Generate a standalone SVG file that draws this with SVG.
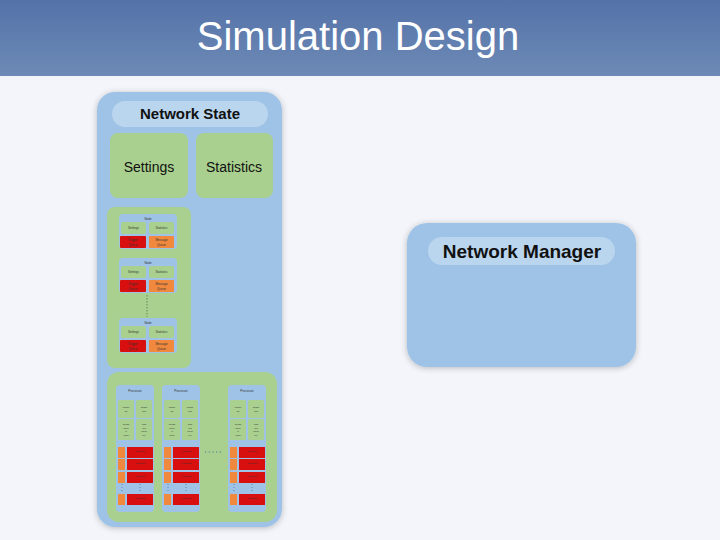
<svg xmlns="http://www.w3.org/2000/svg" width="720" height="540" viewBox="0 0 720 540">
<defs>
<linearGradient id="hdr" x1="0" y1="0" x2="0" y2="1">
<stop offset="0" stop-color="#5472a8"/>
<stop offset="1" stop-color="#6d8ab6"/>
</linearGradient>
<filter id="sh" x="-10%" y="-10%" width="120%" height="120%">
<feGaussianBlur in="SourceAlpha" stdDeviation="3"/>
<feOffset dx="0" dy="1"/>
<feComponentTransfer><feFuncA type="linear" slope="0.25"/></feComponentTransfer>
<feMerge><feMergeNode/><feMergeNode in="SourceGraphic"/></feMerge>
</filter>
</defs>
<style>
.blue{fill:#9fc3e6}
.pill{fill:#bad5ee}
.green{fill:#a9d08e}
.red{fill:#d80f0f}
.orange{fill:#f0883e}
.t{font-family:"Liberation Sans",Arial,sans-serif;text-anchor:middle;fill:#111}
.b{font-weight:bold}
.tiny{font-size:3px;fill:#333}
.mini{font-size:2.5px;fill:#333}
.dots{stroke:#4a7aa0;stroke-width:0.8;stroke-dasharray:1,2;fill:none}
</style>
<rect x="0" y="0" width="720" height="540" fill="#f3f5fa"/>
<rect x="0" y="0" width="720" height="76" fill="url(#hdr)"/>
<text x="358" y="50" class="t" style="fill:#fff;font-size:40px">Simulation Design</text>

<g id="network-state">
<rect x="97" y="92" width="185" height="435" rx="18" class="blue" filter="url(#sh)"/>
<rect x="112" y="101" width="156" height="26" rx="13" class="pill"/>
<text x="190" y="119" class="t b" style="font-size:15px">Network State</text>
</g>
<g id="settings">
<rect x="110" y="133" width="78" height="65" rx="8" class="green"/>
<text x="149" y="172" class="t" style="font-size:14px">Settings</text>
</g>
<g id="statistics">
<rect x="196" y="133" width="77" height="65" rx="8" class="green"/>
<text x="234" y="172" class="t" style="font-size:14px">Statistics</text>
</g>

<g id="nodes">
<rect x="107" y="207" width="84" height="161" rx="8" class="green"/>
<g id="node1">
<rect x="119" y="214" width="58" height="35" rx="4" class="blue"/>
<text x="148" y="219.5" class="t tiny">Node</text>
<rect x="121" y="222" width="25" height="12" rx="2" class="green"/>
<text x="133.5" y="229" class="t tiny">Settings</text>
<rect x="149" y="222" width="25" height="12" rx="2" class="green"/>
<text x="161.5" y="229" class="t tiny">Statistics</text>
<rect x="120" y="236" width="26" height="12" rx="1" class="red"/>
<text x="133" y="241" class="t tiny">Trigger</text>
<text x="133" y="246" class="t tiny">Queue</text>
<rect x="149" y="236" width="25" height="12" rx="1" class="orange"/>
<text x="161.5" y="241" class="t tiny">Message</text>
<text x="161.5" y="246" class="t tiny">Queue</text>
</g>
<g id="node2">
<rect x="119" y="258" width="58" height="35" rx="4" class="blue"/>
<text x="148" y="263.5" class="t tiny">Node</text>
<rect x="121" y="266" width="25" height="12" rx="2" class="green"/>
<text x="133.5" y="273" class="t tiny">Settings</text>
<rect x="149" y="266" width="25" height="12" rx="2" class="green"/>
<text x="161.5" y="273" class="t tiny">Statistics</text>
<rect x="120" y="280" width="26" height="12" rx="1" class="red"/>
<text x="133" y="285" class="t tiny">Trigger</text>
<text x="133" y="290" class="t tiny">Queue</text>
<rect x="149" y="280" width="25" height="12" rx="1" class="orange"/>
<text x="161.5" y="285" class="t tiny">Message</text>
<text x="161.5" y="290" class="t tiny">Queue</text>
</g>
<g id="node3">
<rect x="119" y="318" width="58" height="35" rx="4" class="blue"/>
<text x="148" y="323.5" class="t tiny">Node</text>
<rect x="121" y="326" width="25" height="12" rx="2" class="green"/>
<text x="133.5" y="333" class="t tiny">Settings</text>
<rect x="149" y="326" width="25" height="12" rx="2" class="green"/>
<text x="161.5" y="333" class="t tiny">Statistics</text>
<rect x="120" y="340" width="26" height="12" rx="1" class="red"/>
<text x="133" y="345" class="t tiny">Trigger</text>
<text x="133" y="350" class="t tiny">Queue</text>
<rect x="149" y="340" width="25" height="12" rx="1" class="orange"/>
<text x="161.5" y="345" class="t tiny">Message</text>
<text x="161.5" y="350" class="t tiny">Queue</text>
</g>
</g>

<g id="processors">
<rect x="107" y="372" width="170" height="150" rx="12" class="green"/>
<g id="proc1" transform="translate(116,385)">
<rect x="0" y="0" width="38" height="127" rx="4" class="blue"/>
<text x="19" y="7" class="t tiny">Processor</text>
<rect x="2" y="15" width="16" height="18" rx="1.5" class="green"/>
<text x="10" y="23" class="t mini">Settin</text><text x="10" y="26.5" class="t mini">gs</text>
<rect x="20" y="15" width="16" height="18" rx="1.5" class="green"/>
<text x="28" y="23" class="t mini">Statis</text><text x="28" y="26.5" class="t mini">tics</text>
<rect x="2" y="34" width="16" height="21" rx="1.5" class="green"/>
<text x="10" y="40" class="t mini">Neigh</text><text x="10" y="43.5" class="t mini">bors</text><text x="10" y="47" class="t mini">&amp;</text><text x="10" y="50.5" class="t mini">links</text>
<rect x="20" y="34" width="16" height="21" rx="1.5" class="green"/>
<text x="28" y="40" class="t mini">Sha</text><text x="28" y="43.5" class="t mini">red</text><text x="28" y="47" class="t mini">Mem</text><text x="28" y="50.5" class="t mini">ory</text>
<rect x="2" y="62" width="7" height="11" class="orange"/><rect x="11" y="62" width="26" height="11" class="red"/>
<text x="24" y="67" class="t mini">Algorithm</text>
<rect x="2" y="74" width="7" height="11" class="orange"/><rect x="11" y="74" width="26" height="11" class="red"/>
<text x="24" y="79" class="t mini">Algorithm</text>
<rect x="2" y="87" width="7" height="11" class="orange"/><rect x="11" y="87" width="26" height="11" class="red"/>
<text x="24" y="92" class="t mini">Algorithm</text>
<rect x="2" y="109" width="7" height="11" class="orange"/><rect x="11" y="109" width="26" height="11" class="red"/>
<text x="24" y="114" class="t mini">Algorithm</text>
</g>
<g id="proc2" transform="translate(162,385)">
<rect x="0" y="0" width="38" height="127" rx="4" class="blue"/>
<text x="19" y="7" class="t tiny">Processor</text>
<rect x="2" y="15" width="16" height="18" rx="1.5" class="green"/>
<text x="10" y="23" class="t mini">Settin</text><text x="10" y="26.5" class="t mini">gs</text>
<rect x="20" y="15" width="16" height="18" rx="1.5" class="green"/>
<text x="28" y="23" class="t mini">Statis</text><text x="28" y="26.5" class="t mini">tics</text>
<rect x="2" y="34" width="16" height="21" rx="1.5" class="green"/>
<text x="10" y="40" class="t mini">Neigh</text><text x="10" y="43.5" class="t mini">bors</text><text x="10" y="47" class="t mini">&amp;</text><text x="10" y="50.5" class="t mini">links</text>
<rect x="20" y="34" width="16" height="21" rx="1.5" class="green"/>
<text x="28" y="40" class="t mini">Sha</text><text x="28" y="43.5" class="t mini">red</text><text x="28" y="47" class="t mini">Mem</text><text x="28" y="50.5" class="t mini">ory</text>
<rect x="2" y="62" width="7" height="11" class="orange"/><rect x="11" y="62" width="26" height="11" class="red"/>
<text x="24" y="67" class="t mini">Algorithm</text>
<rect x="2" y="74" width="7" height="11" class="orange"/><rect x="11" y="74" width="26" height="11" class="red"/>
<text x="24" y="79" class="t mini">Algorithm</text>
<rect x="2" y="87" width="7" height="11" class="orange"/><rect x="11" y="87" width="26" height="11" class="red"/>
<text x="24" y="92" class="t mini">Algorithm</text>
<rect x="2" y="109" width="7" height="11" class="orange"/><rect x="11" y="109" width="26" height="11" class="red"/>
<text x="24" y="114" class="t mini">Algorithm</text>
</g>
<g id="proc3" transform="translate(228,385)">
<rect x="0" y="0" width="38" height="127" rx="4" class="blue"/>
<text x="19" y="7" class="t tiny">Processor</text>
<rect x="2" y="15" width="16" height="18" rx="1.5" class="green"/>
<text x="10" y="23" class="t mini">Settin</text><text x="10" y="26.5" class="t mini">gs</text>
<rect x="20" y="15" width="16" height="18" rx="1.5" class="green"/>
<text x="28" y="23" class="t mini">Statis</text><text x="28" y="26.5" class="t mini">tics</text>
<rect x="2" y="34" width="16" height="21" rx="1.5" class="green"/>
<text x="10" y="40" class="t mini">Neigh</text><text x="10" y="43.5" class="t mini">bors</text><text x="10" y="47" class="t mini">&amp;</text><text x="10" y="50.5" class="t mini">links</text>
<rect x="20" y="34" width="16" height="21" rx="1.5" class="green"/>
<text x="28" y="40" class="t mini">Sha</text><text x="28" y="43.5" class="t mini">red</text><text x="28" y="47" class="t mini">Mem</text><text x="28" y="50.5" class="t mini">ory</text>
<rect x="2" y="62" width="7" height="11" class="orange"/><rect x="11" y="62" width="26" height="11" class="red"/>
<text x="24" y="67" class="t mini">Algorithm</text>
<rect x="2" y="74" width="7" height="11" class="orange"/><rect x="11" y="74" width="26" height="11" class="red"/>
<text x="24" y="79" class="t mini">Algorithm</text>
<rect x="2" y="87" width="7" height="11" class="orange"/><rect x="11" y="87" width="26" height="11" class="red"/>
<text x="24" y="92" class="t mini">Algorithm</text>
<rect x="2" y="109" width="7" height="11" class="orange"/><rect x="11" y="109" width="26" height="11" class="red"/>
<text x="24" y="114" class="t mini">Algorithm</text>
</g>
</g>

<g id="connectors">
<line x1="147" y1="295" x2="147" y2="317" stroke="#4a7a4a" stroke-width="0.8" stroke-dasharray="1.5,1.5"/>
<line x1="205" y1="452" x2="223" y2="452" stroke="#4a7aa0" stroke-width="1.2" stroke-dasharray="1.2,2.5"/>
<line x1="122" y1="484" x2="122" y2="493" class="dots"/>
<line x1="140" y1="484" x2="140" y2="493" class="dots"/>
<line x1="168" y1="484" x2="168" y2="493" class="dots"/>
<line x1="186" y1="484" x2="186" y2="493" class="dots"/>
<line x1="234" y1="484" x2="234" y2="493" class="dots"/>
<line x1="252" y1="484" x2="252" y2="493" class="dots"/>
</g>

<g id="network-manager">
<rect x="407" y="223" width="229" height="144" rx="20" class="blue" filter="url(#sh)"/>
<rect x="428" y="237" width="187" height="28" rx="14" class="pill"/>
<text x="522" y="258" class="t b" style="font-size:19px">Network Manager</text>
</g>
</svg>
